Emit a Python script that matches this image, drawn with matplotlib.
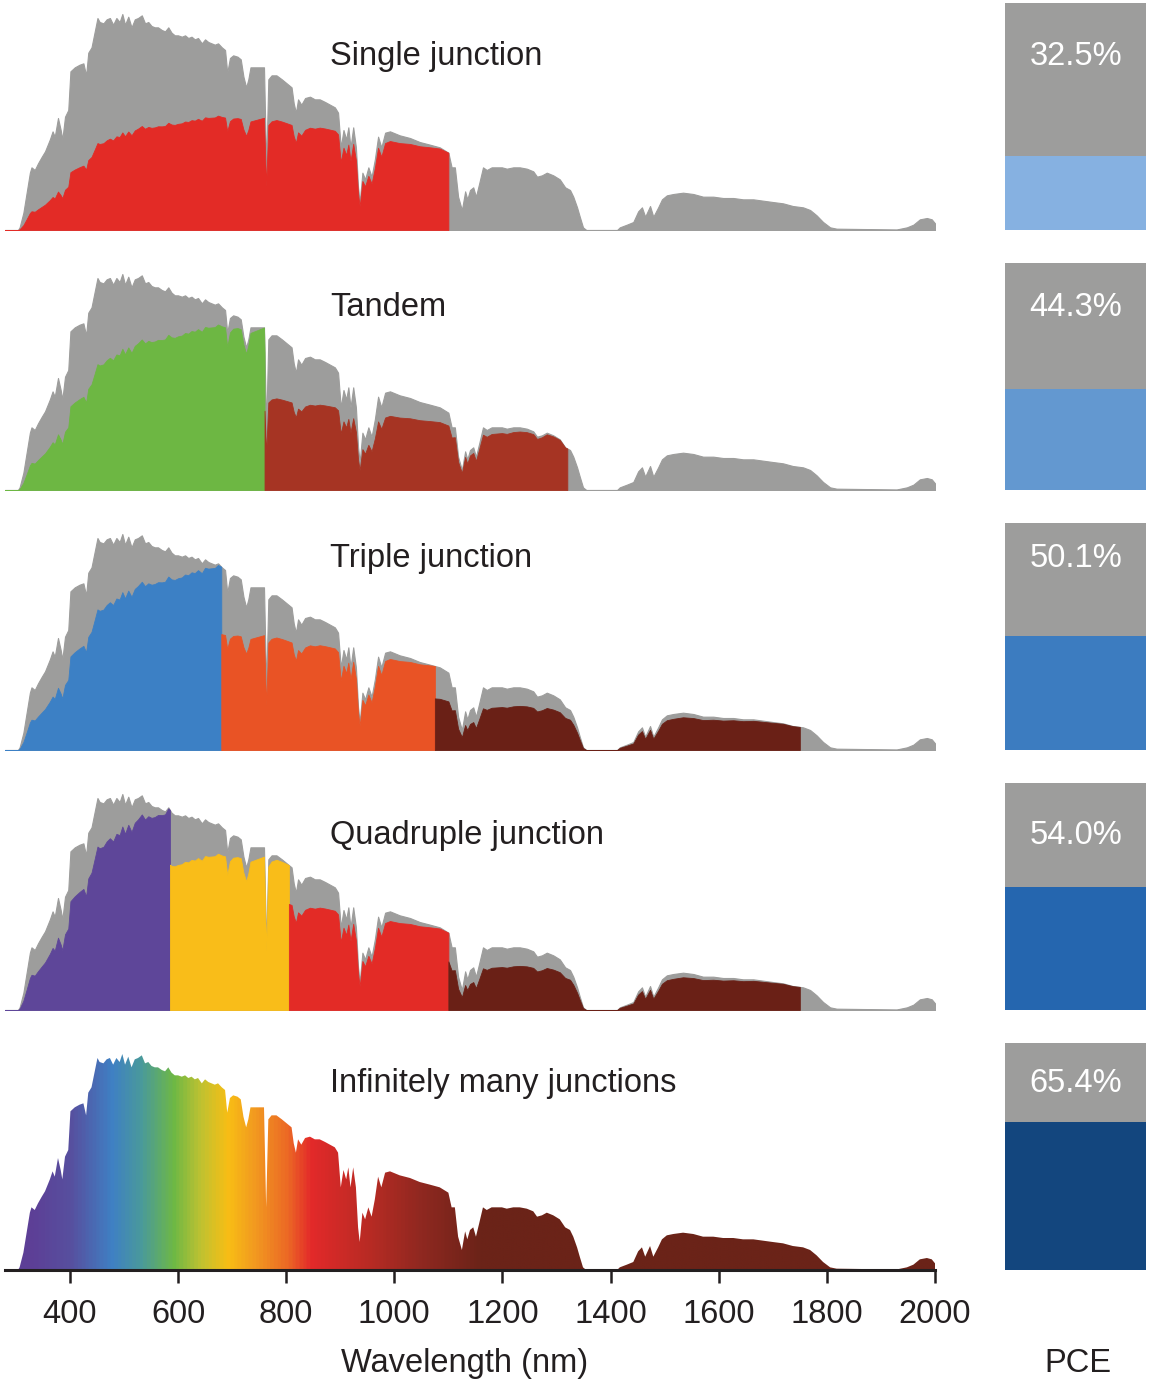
import numpy as np
import matplotlib.pyplot as plt
from matplotlib.colors import LinearSegmentedColormap

plt.rcParams['font.family'] = ['Liberation Sans', 'DejaVu Sans']

# solar spectrum (W m^-2 nm^-1)
wavelength = [280, 300, 304, 307, 314, 320, 326, 329, 335, 341, 348, 354, 363, 368, 372, 378, 383, 386,
              391, 397, 401, 409, 418, 425, 430, 434, 440, 446, 451, 455, 462, 468, 474, 480, 486, 492,
              497, 502, 508, 514, 520, 526, 533, 539, 545, 551, 557, 563, 570, 576, 582, 588, 594, 600,
              607, 613, 619, 625, 631, 637, 644, 650, 656, 662, 668, 674, 681, 687, 691, 696, 702, 710,
              716, 721, 726, 730, 734, 742, 751, 759, 763, 767, 773, 782, 792, 801, 810, 814, 818, 822,
              828, 835, 844, 853, 862, 872, 881, 890, 896, 901, 906, 911, 915, 919, 924, 929, 933, 936,
              941, 946, 952, 958, 964, 970, 976, 983, 992, 1010, 1029, 1047, 1066, 1084, 1100, 1106,
              1112, 1118, 1125, 1131, 1135, 1140, 1146, 1151, 1157, 1164, 1171, 1180, 1189, 1199, 1208,
              1220, 1232, 1245, 1257, 1264, 1273, 1282, 1294, 1306, 1316, 1325, 1331, 1338, 1343, 1349,
              1355, 1412, 1417, 1430, 1442, 1451, 1458, 1464, 1473, 1479, 1488, 1495, 1504, 1516, 1534,
              1553, 1571, 1590, 1608, 1627, 1645, 1664, 1682, 1700, 1719, 1737, 1756, 1769, 1781, 1793,
              1806, 1818, 1929, 1948, 1960, 1972, 1985, 1994, 2000]
irradiance = [0, 0, 0, 0.02, 0.13, 0.28, 0.43, 0.47, 0.45, 0.50, 0.55, 0.59, 0.68, 0.74, 0.70, 0.84, 0.75, 0.68,
              0.85, 0.90, 1.19, 1.22, 1.24, 1.25, 1.16, 1.33, 1.37, 1.49, 1.59, 1.56, 1.55, 1.58, 1.59, 1.54, 1.59, 1.56,
              1.62, 1.54, 1.60, 1.52, 1.58, 1.59, 1.61, 1.55, 1.56, 1.53, 1.52, 1.52, 1.50, 1.49, 1.52, 1.48, 1.46, 1.46,
              1.45, 1.46, 1.44, 1.45, 1.43, 1.44, 1.40, 1.43, 1.41, 1.40, 1.39, 1.40, 1.37, 1.35, 1.18, 1.29, 1.31, 1.30,
              1.28, 1.15, 1.07, 1.13, 1.22, 1.22, 1.22, 1.22, 0.47, 1.13, 1.16, 1.16, 1.13, 1.10, 1.07, 0.95, 0.88, 0.98,
              0.94, 0.99, 1.00, 0.98, 0.98, 0.96, 0.94, 0.92, 0.88, 0.62, 0.75, 0.68, 0.77, 0.62, 0.77, 0.62, 0.32, 0.21,
              0.43, 0.38, 0.47, 0.40, 0.53, 0.70, 0.62, 0.73, 0.74, 0.71, 0.69, 0.66, 0.64, 0.62, 0.58, 0.47,
              0.47, 0.25, 0.15, 0.29, 0.23, 0.30, 0.32, 0.25, 0.35, 0.47, 0.45, 0.47, 0.47, 0.47, 0.46,
              0.47, 0.47, 0.46, 0.44, 0.40, 0.41, 0.43, 0.41, 0.38, 0.32, 0.30, 0.25, 0.17, 0.10, 0.02,
              0, 0, 0.02, 0.04, 0.06, 0.14, 0.17, 0.10, 0.18, 0.10, 0.17, 0.23, 0.26, 0.27, 0.28,
              0.27, 0.25, 0.25, 0.24, 0.24, 0.23, 0.23, 0.22, 0.21, 0.20, 0.18, 0.17, 0.15, 0.11, 0.06,
              0.02, 0.01, 0.004, 0.02, 0.04, 0.08, 0.09, 0.08, 0.05]

panel_names = ['Single junction', 'Tandem', 'Triple junction', 'Quadruple junction',
               'Infinitely many junctions']
band_edges = [[1100], [760, 1320], [680, 1075, 1750], [585, 805, 1100, 1750], []]
band_colors = [['#E32B26'],
               ['#6DB743', '#A63423'],
               ['#3C80C5', '#E95325', '#6A2016'],
               ['#5E4699', '#F9BD19', '#E32B26', '#6A2016'],
               []]
pce = [32.5, 44.3, 50.1, 54.0, 65.4]
pce_colors = ['#86B1E1', '#6398D0', '#3C7CC0', '#2566AF', '#13467E']

rainbow_nm = [280, 330, 400, 475, 530, 590, 640, 690, 740, 800, 845, 950, 1050, 1160, 2000]
rainbow_hex = ['#5D3F96', '#5D4097', '#57509F', '#3F80C4', '#4A9A9B', '#6EB845', '#BFC231', '#F8BE15',
               '#F29A20', '#EC6A25', '#E3292A', '#B92B24', '#8F2820', '#6B2318', '#6B2318']

gray = '#9D9D9C'
ink = '#231F20'

W, H = 1150, 1380
def rect(x0, y_top, w, h):
    return [x0 / W, 1 - (y_top + h) / H, w / W, h / H]

lam = np.array(wavelength, dtype=float)
spec = np.array(irradiance)

def segment(lo, hi):
    inside = (lam > lo) & (lam < hi)
    x = np.concatenate([[lo], lam[inside], [hi]])
    return x, np.interp(x, lam, spec)

fig = plt.figure(figsize=(W / 100, H / 100), dpi=100)

baselines = [230 + 260 * i for i in range(5)]
text_base = [65, 316, 567, 844, 1092]

for i in range(5):
    yb = baselines[i]
    ax = fig.add_axes(rect(5, yb - 240, 930, 240))
    ax.set_xlim(280, 2000)
    ax.set_ylim(0, 1.8)

    if i < 4:
        ax.fill_between(lam, 0, spec, color=gray, lw=0.8)
        lo = 280
        for edge, c in zip(band_edges[i], band_colors[i]):
            x, y = segment(lo, edge)
            ax.fill_between(x, 0, y * x / edge, color=c, lw=0.6)
            lo = edge
    else:
        poly = ax.fill_between(lam, 0, spec, color='none', lw=0)
        stops = [(v - 280) / (2000 - 280) for v in rainbow_nm]
        cmap = LinearSegmentedColormap.from_list('sun', list(zip(stops, rainbow_hex)))
        grad = np.linspace(280, 2000, 1200)[None, :]
        im = ax.imshow(grad, cmap=cmap, vmin=280, vmax=2000, aspect='auto',
                       extent=[280, 2000, 0, 1.8], origin='lower', interpolation='bilinear')
        im.set_clip_path(poly.get_paths()[0], ax.transData)

    for s in ['top', 'right', 'left']:
        ax.spines[s].set_visible(False)
    ax.set_yticks([])
    if i == 4:
        ax.spines['bottom'].set_linewidth(2.2)
        ax.spines['bottom'].set_color(ink)
        ax.set_xticks(range(400, 2001, 200))
        ax.tick_params(axis='x', length=9, width=1.8, color=ink, labelsize=23.5,
                       labelcolor=ink, pad=12)
    else:
        ax.spines['bottom'].set_visible(False)
        ax.set_xticks([])

    fig.text(330 / W, 1 - text_base[i] / H, panel_names[i], fontsize=23.5, color=ink,
             ha='left', va='baseline')

    # PCE box
    bx = fig.add_axes(rect(1005, yb - 227, 141, 227))
    bx.bar(0, 100, width=1, color=gray)
    bx.bar(0, pce[i], width=1, color=pce_colors[i])
    bx.set_xlim(-0.5, 0.5)
    bx.set_ylim(0, 100)
    bx.axis('off')
    fig.text(1076 / W, 1 - text_base[i] / H, f'{pce[i]:.1f}%', fontsize=23.5, color='white',
             ha='center', va='baseline')

fig.text(465 / W, 1 - 1372 / H, 'Wavelength (nm)', fontsize=23.5, color=ink, ha='center', va='baseline')
fig.text(1078 / W, 1 - 1372 / H, 'PCE', fontsize=23.5, color=ink, ha='center', va='baseline')

fig.savefig('out.png', dpi=100)
